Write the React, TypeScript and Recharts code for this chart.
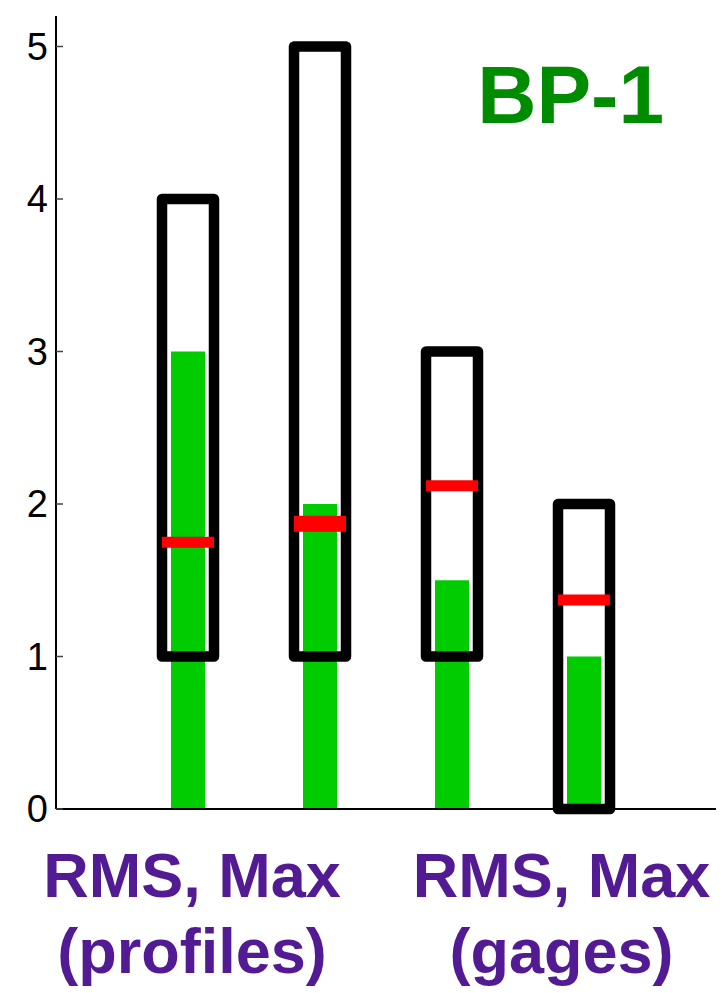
import {
  ComposedChart,
  Bar,
  Scatter,
  XAxis,
  YAxis,
  Customized,
} from "recharts";

// positions on the x axis (0..5), one per group
const positions = [1, 2, 3, 4];
const greenValues = [3, 2, 1.5, 1];
const boxLow = [1, 1, 1, 0];
const boxHigh = [4, 5, 3, 2];
const redValues = [1.75, 1.87, 2.12, 1.37];

const yTicks = [0, 1, 2, 3, 4, 5];
const labelTicks = [1.03, 3.83];
const labelLines = [
  ["RMS, Max", "(profiles)"],
  ["RMS, Max", "(gages)"],
];
const title = "BP-1";

// marker thickness per group (style only)
const redThickness = [11, 16, 11, 11];

const data = positions.map((x, i) => ({
  x,
  green: greenValues[i],
  box: [boxLow[i], boxHigh[i]],
  red: redValues[i],
}));

const FONT = "'Liberation Sans', Arial, Helvetica, sans-serif";

const BoxShape = (props: any) => {
  const { x, y, width, height } = props;
  return (
    <rect
      x={x}
      y={y}
      width={width}
      height={height}
      fill="none"
      stroke="#000"
      strokeWidth={10.5}
      strokeLinejoin="round"
    />
  );
};

const RedMark = (props: any) => {
  const { cx, cy, index } = props;
  return (
    <line
      x1={cx - 26}
      x2={cx + 26}
      y1={cy}
      y2={cy}
      stroke="#ff0000"
      strokeWidth={redThickness[index] ?? 11}
    />
  );
};

const GroupLabel = (props: any) => {
  const { x, y, index } = props;
  const lines = labelLines[index] || [];
  return (
    <text
      x={x}
      y={y}
      textAnchor="middle"
      fill="#521b93"
      fontSize={63}
      fontWeight="bold"
      fontFamily={FONT}
    >
      {lines.map((l, i) => (
        <tspan key={i} x={x} y={y + 88 + i * 76}>
          {l}
        </tspan>
      ))}
    </text>
  );
};

const Title = () => (
  <text
    x={664}
    y={123}
    textAnchor="end"
    fill="#008c00"
    fontSize={82}
    fontWeight="bold"
    fontFamily={FONT}
  >
    {title}
  </text>
);

const App = () => {
  return (
    <div style={{ position: "absolute", left: 0, top: 0, width: 725, height: 993, background: "#fff" }}>
      <ComposedChart
        width={725}
        height={993}
        data={data}
        margin={{ top: 16, right: 9, left: 0, bottom: 0 }}
      >
        <XAxis
          xAxisId="a"
          type="number"
          dataKey="x"
          domain={[0, 5]}
          ticks={labelTicks}
          interval={0}
          tick={<GroupLabel />}
          tickLine={false}
          tickSize={0}
          tickMargin={0}
          height={184}
          axisLine={{ stroke: "#000", strokeWidth: 2 }}
        />
        <XAxis xAxisId="b" type="number" dataKey="x" domain={[0, 5]} hide />
        <XAxis
          xAxisId="top"
          orientation="top"
          type="number"
          dataKey="x"
          domain={[0, 5]}
          mirror
          height={0}
          tick={false}
          tickLine={false}
          axisLine={{ stroke: "#000", strokeWidth: 1.5 }}
        />
        {/* negative tick size turns the tick marks inward */}
        <YAxis
          yAxisId="y"
          type="number"
          domain={[0, 5.2]}
          ticks={yTicks}
          width={56}
          tickSize={-7}
          tickMargin={15}
          tickLine={{ stroke: "#444", strokeWidth: 1.5 }}
          axisLine={{ stroke: "#000", strokeWidth: 2 }}
          fontSize={38}
          tick={{ fill: "#000", fontSize: 38, fontFamily: FONT }}
        />
        <YAxis
          yAxisId="yr"
          orientation="right"
          type="number"
          domain={[0, 5.2]}
          ticks={yTicks}
          width={0}
          tickSize={-7}
          tickMargin={0}
          tickFormatter={() => ""}
          axisLine={{ stroke: "#000", strokeWidth: 1.5 }}
          tickLine={{ stroke: "#444", strokeWidth: 1.5 }}
        />
        <Bar
          xAxisId="a"
          yAxisId="y"
          dataKey="green"
          fill="#00cc00"
          barSize={34}
          isAnimationActive={false}
        />
        <Bar
          xAxisId="b"
          yAxisId="y"
          dataKey="box"
          barSize={52}
          shape={<BoxShape />}
          isAnimationActive={false}
        />
        <Scatter
          xAxisId="a"
          yAxisId="y"
          dataKey="red"
          shape={<RedMark />}
          isAnimationActive={false}
        />
        <Customized component={Title} />
      </ComposedChart>
    </div>
  );
};

export default App;
